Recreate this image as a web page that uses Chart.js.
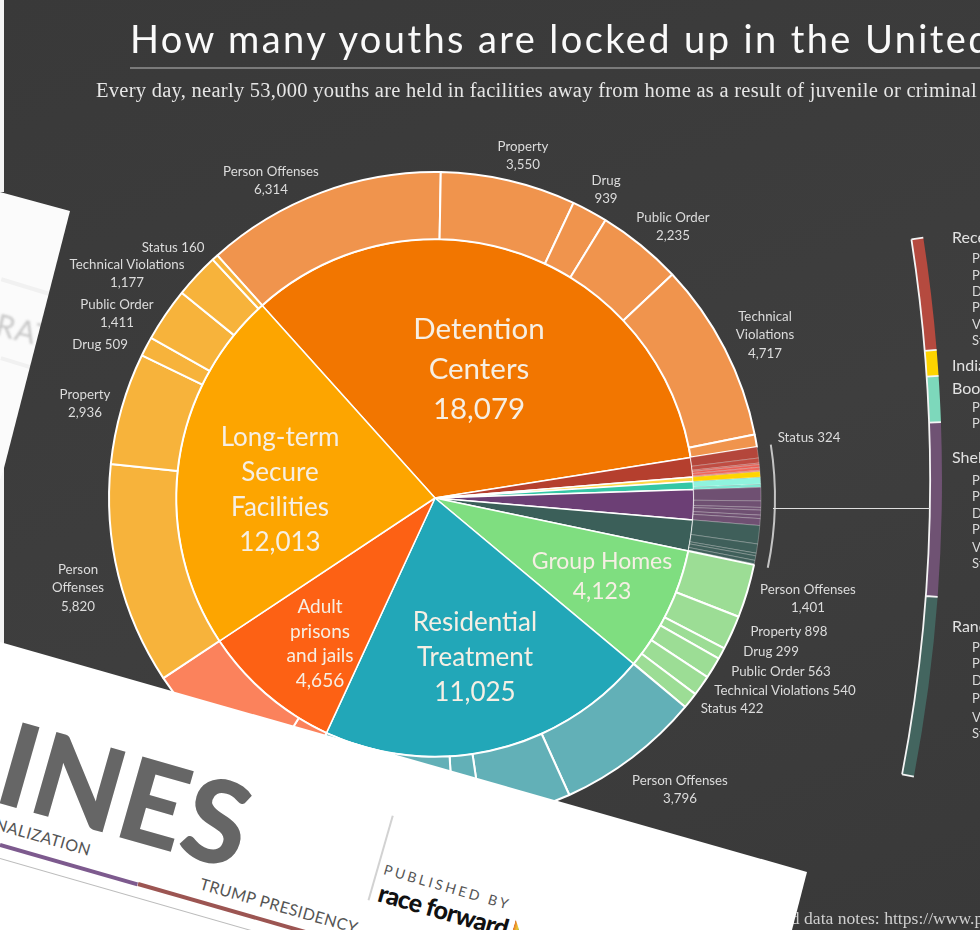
<!DOCTYPE html>
<html lang="en">
<head>
<meta charset="utf-8">
<title>How many youths are locked up in the United States?</title>
<script src="https://cdn.jsdelivr.net/npm/chart.js@4"></script>
<style>
  html, body { margin: 0; padding: 0; background: #3c3c3c; }
  #stage { position: relative; width: 980px; height: 930px; overflow: hidden;
           background: linear-gradient(160deg, #393939 0%, #3e3e3e 55%, #393939 100%);
           font-family: Lato, "Open Sans", sans-serif; }
  #stage canvas { position: absolute; }
  .txt { position: absolute; white-space: nowrap; }
  .lab { color: #dcdcdc; font-size: 13.3px; line-height: 18.4px; text-align: center; transform: translate(-50%, -9px); }
  .big { color: #f6efe4; text-align: center; transform: translate(-50%, -50%); }
  .key { color: #e2e2e2; font-size: 16px; transform: translateY(-50%); }
  .sub { color: #dadada; font-size: 13px; transform: translateY(-50%); }
  .paper { position: absolute; left: 0; top: 0; width: 980px; height: 930px; overflow: hidden; }
  .rot { position: absolute; white-space: nowrap; line-height: 1; }
  .bar { position: absolute; transform-origin: 0 50%; }
</style>
</head>
<body>
<div id="stage">
  <canvas id="rangeArc"></canvas>
  <canvas id="pie" width="980" height="930"></canvas>
  <div class="txt" id="title" style="left:130px;top:14px;font-size:38px;font-weight:400;letter-spacing:2.4px;color:#fafafa;line-height:48px">How many youths are locked up in the United States?</div>
  <div style="position:absolute;left:130px;top:67px;width:850px;height:1.5px;background:#7a7a7a"></div>
  <div class="txt" id="subtitle" style="left:96px;top:78px;font-family:'Liberation Serif',serif;font-size:20.5px;line-height:24px;letter-spacing:.27px;color:#e6e6e6">Every day, nearly 53,000 youths are held in facilities away from home as a result of juvenile or criminal justice involvement.</div>
  <div class="txt" style="left:720px;top:908px;font-family:'Liberation Serif',serif;font-size:17.6px;line-height:20px;color:#cfcfcf">Details and data notes: https://www.prisonpolicy.org/reports/youth2018.html</div>
  <div style="position:absolute;left:773px;top:507.5px;width:157px;height:1.5px;background:#dedede"></div>
  <div id="labels"></div>

  <!-- printed page lying over the upper-left corner -->
  <div style="position:absolute;left:0;top:0;width:4px;height:192px;background:#f4f4f4"></div>
  <div style="position:absolute;left:0;top:460px;width:4px;height:190px;background:#f4f4f4"></div>
  <div class="paper" style="background:#fbfbfb;clip-path:polygon(0 192px,70px 211px,4px 468px,0 480px)">
    <div class="rot" style="left:0;top:286px;width:60px;height:4px;background:#f1f1f1;transform:rotate(17deg)"></div>
    <div class="rot" style="left:0;top:362px;width:40px;height:4px;background:#f1f1f1;transform:rotate(17deg)"></div>
    <div class="rot" style="left:-4px;top:315px;font-size:30px;color:#c8c8c8;filter:blur(.8px);transform:rotate(14deg);letter-spacing:1px">RAT</div>
  </div>

  <!-- printed page lying over the bottom of the chart -->
  <div class="paper" style="background:#ffffff;clip-path:polygon(0 642px,807px 872px,792px 930px,0 930px)">
    <div class="rot" id="ines" style="left:-6px;top:699px;font-size:115.5px;font-weight:900;color:#666;letter-spacing:0;transform-origin:0 .8em;transform:rotate(15.9deg)">INES</div>
    <div class="rot" style="left:-6px;top:815px;font-size:16px;color:#555;letter-spacing:.5px;transform-origin:0 .8em;transform:rotate(15.9deg)">NALIZATION</div>
    <div class="bar" style="left:0;top:843px;width:143px;height:4px;background:#7d5a8e;transform:rotate(16deg)"></div>
    <div class="bar" style="left:138px;top:882px;width:200px;height:4px;background:#9c5552;transform:rotate(16deg)"></div>
    <div class="bar" style="left:0;top:858px;width:270px;height:1px;background:#bcbcbc;transform:rotate(16deg)"></div>
    <div class="rot" style="left:199px;top:875px;font-size:16px;color:#555;letter-spacing:.5px;transform-origin:0 .8em;transform:rotate(15.9deg)">TRUMP PRESIDENCY</div>
    <div class="bar" style="left:393px;top:815px;width:88px;height:1.5px;background:#d2d2d2;transform:rotate(106deg)"></div>
    <div class="rot" style="left:383px;top:862px;font-size:14px;color:#555;letter-spacing:2.9px;transform-origin:0 .8em;transform:rotate(15.9deg)">PUBLISHED BY</div>
    <div class="rot" style="left:377px;top:879px;font-size:25px;font-weight:900;color:#111;letter-spacing:-.7px;transform-origin:0 .8em;transform:rotate(15.9deg)">race forward</div>
    <div class="bar" style="left:514px;top:919px;width:8px;height:12px;background:linear-gradient(90deg,#e2742c,#f2c62e,#58a94a);clip-path:polygon(0 0,100% 100%,0 100%);transform:rotate(16deg)"></div>
  </div>
</div>

<script>
// Youth held by facility type, inner ring, in clockwise drawing order
const facilityNames = ['Detention Centers', 'Reception', 'Indian Country', 'Boot Camps', 'Shelters', 'Ranches',
                       'Group Homes', 'Residential Treatment', 'Adult prisons and jails', 'Long-term Secure Facilities'];
const detention   = [6314, 3550, 939, 2235, 4717, 324];
const reception   = [290, 130, 40, 70, 80, 30];
const indian      = [148];
const bootCamps   = [180, 83];
const shelters    = [350, 170, 70, 130, 90, 180];
const ranches     = [480, 240, 70, 120, 90, 28];
const groupHomes  = [1401, 898, 299, 563, 540, 422];
const residential = [3796, 2354, 750, 1812, 1865, 448];
const adult       = [1026, 3630];
const longTerm    = [5820, 2936, 509, 1411, 1177, 160];

const groups = [detention, reception, indian, bootCamps, shelters, ranches, groupHomes, residential, adult, longTerm];
const sum = a => a.reduce((s, v) => s + v, 0);
const fmt = v => v.toLocaleString('en-US');
const facilityTotals = groups.map(sum);
const grandTotal = sum(facilityTotals);
const smallFacilities = sum(facilityTotals.slice(1, 6));

const innerColors = ['#f27600', '#b53f2e', '#ffd84a', '#35c7a6', '#6c3f75', '#3b5f59', '#7fde80', '#22a7b8', '#fd6114', '#fda500'];
const outerColors = [
  ['#f0944d'],
  ['#b4463b', '#bf4c42', '#d85449', '#e95f55', '#ee675c', '#ef7066'],
  ['#ffd400'],
  ['#8ff3de', '#7fe7d2'],
  ['#6f5072'],
  ['#3f5f5a'],
  ['#9cdd95'],
  ['#62b0b7'],
  ['#fb825c'],
  ['#f7b33b']
];

const outerValues = groups.flat();
const outerFill = groups.flatMap((g, i) => g.map((_, j) => outerColors[i][j] || outerColors[i][0]));
const thinGroup = i => i >= 1 && i <= 5;
const outerLine = groups.flatMap((g, i) => g.map(() => thinGroup(i) ? 0.6 : 2));
const outerStroke = groups.flatMap((g, i) => g.map(() => thinGroup(i) ? 'rgba(255,255,255,.45)' : '#ffffff'));

// The whole pie starts where detention meets long-term secure facilities
const startAngle = -41.9;

new Chart(document.getElementById('pie'), {
  type: 'doughnut',
  data: {
    labels: outerValues.map((_, i) => String(i)),
    datasets: [
      { // bracket gathering the five smallest facility types
        data: [facilityTotals[0], smallFacilities, grandTotal - facilityTotals[0] - smallFacilities],
        backgroundColor: ['rgba(0,0,0,0)', '#c4c4c4', 'rgba(0,0,0,0)'],
        borderWidth: 0, weight: 2
      },
      { // gap between bracket and pie
        data: [grandTotal], backgroundColor: 'rgba(0,0,0,0)', borderWidth: 0, weight: 13
      },
      { data: outerValues, backgroundColor: outerFill, borderColor: outerStroke, borderWidth: outerLine, weight: 67 },
      { data: facilityTotals, backgroundColor: innerColors, borderColor: '#ffffff', borderWidth: 1.5, weight: 258 }
    ]
  },
  options: {
    responsive: false, animation: false, cutout: 0, rotation: startAngle,
    layout: { padding: { left: 94, right: 204, top: 157, bottom: 91 } },
    events: [],
    plugins: { legend: { display: false }, tooltip: { enabled: false } }
  }
});

// Enlarged slice of the ring for the five smallest facility types.
// A clear remainder keeps the ring a full circle, so its radius stays put.
const arcValues = facilityTotals.slice(1, 6);
const arcFill = ['#b54a3f', '#fdd400', '#7dd8bb', '#6f5273', '#43655f', 'rgba(0,0,0,0)'];
const arcSize = 3158;
const arcSweep = 19.66;
const arcRest = sum(arcValues) * (360 / arcSweep - 1);
const arcCanvas = document.getElementById('rangeArc');
arcCanvas.width = arcSize; arcCanvas.height = arcSize;
arcCanvas.style.left = (-637 - arcSize / 2) + 'px';
arcCanvas.style.top = (480 - arcSize / 2) + 'px';

const arcEdges = {
  id: 'arcEdges',
  afterDatasetsDraw(chart) {
    const arcs = chart.getDatasetMeta(0).data.slice(0, arcValues.length), ctx = chart.ctx;
    ctx.save();
    ctx.strokeStyle = '#f4f4f4';
    ctx.lineWidth = 1.8;
    const cx = arcs[0].x, cy = arcs[0].y, r0 = arcs[0].innerRadius, r1 = arcs[0].outerRadius;
    ctx.beginPath();
    ctx.arc(cx, cy, r0, arcs[0].startAngle, arcs[arcs.length - 1].endAngle);
    arcs.forEach((a, i) => {
      ctx.moveTo(cx + r0 * Math.cos(a.startAngle), cy + r0 * Math.sin(a.startAngle));
      ctx.lineTo(cx + r1 * Math.cos(a.startAngle), cy + r1 * Math.sin(a.startAngle));
      if (i === arcs.length - 1) {
        ctx.moveTo(cx + r0 * Math.cos(a.endAngle), cy + r0 * Math.sin(a.endAngle));
        ctx.lineTo(cx + r1 * Math.cos(a.endAngle), cy + r1 * Math.sin(a.endAngle));
      }
    });
    ctx.stroke();
    ctx.restore();
  }
};

new Chart(arcCanvas, {
  type: 'doughnut',
  data: {
    labels: facilityNames.slice(1, 6).concat(''),
    datasets: [{ data: arcValues.concat(arcRest), backgroundColor: arcFill, borderWidth: 0 }]
  },
  options: {
    responsive: false, animation: false, cutout: 1567,
    rotation: 91 - arcSweep / 2,
    events: [],
    plugins: { legend: { display: false }, tooltip: { enabled: false } }
  },
  plugins: [arcEdges]
});

// Text around and on the pie
const wrap = document.getElementById('labels');
function put(cls, x, y, html, extra) {
  const d = document.createElement('div');
  d.className = 'txt ' + cls;
  d.style.left = x + 'px';
  d.style.top = y + 'px';
  if (extra) d.style.cssText += extra;
  d.innerHTML = html;
  wrap.appendChild(d);
}

const ringLabels = [
  [271, 171, 'Person Offenses<br>' + fmt(detention[0])],
  [523, 146, 'Property<br>' + fmt(detention[1])],
  [606, 180, 'Drug<br>' + fmt(detention[2])],
  [673, 217, 'Public Order<br>' + fmt(detention[3])],
  [765, 316, 'Technical<br>Violations<br>' + fmt(detention[4])],
  [809, 437, 'Status ' + fmt(detention[5])],
  [173, 247, 'Status ' + fmt(longTerm[5])],
  [127, 264, 'Technical Violations<br>' + fmt(longTerm[4])],
  [117, 304, 'Public Order<br>' + fmt(longTerm[3])],
  [100, 344, 'Drug ' + fmt(longTerm[2])],
  [85, 394, 'Property<br>' + fmt(longTerm[1])],
  [78, 569, 'Person<br>Offenses<br>' + fmt(longTerm[0])],
  [808, 589, 'Person Offenses<br>' + fmt(groupHomes[0])],
  [789, 631, 'Property ' + fmt(groupHomes[1])],
  [771, 651, 'Drug ' + fmt(groupHomes[2])],
  [781, 671, 'Public Order ' + fmt(groupHomes[3])],
  [785, 690, 'Technical Violations ' + fmt(groupHomes[4])],
  [732, 708, 'Status ' + fmt(groupHomes[5])],
  [680, 780, 'Person Offenses<br>' + fmt(residential[0])]
];
ringLabels.forEach(([x, y, t]) => put('lab', x, y, t));

const sliceLabels = [
  [479, 368, 'Detention<br>Centers<br>' + fmt(facilityTotals[0]), 'font-size:29.5px;line-height:40px'],
  [280, 489, 'Long-term<br>Secure<br>Facilities<br>' + fmt(facilityTotals[9]), 'font-size:26px;line-height:35px'],
  [320, 643, 'Adult<br>prisons<br>and jails<br>' + fmt(facilityTotals[8]), 'font-size:19px;line-height:24.7px'],
  [475, 656, 'Residential<br>Treatment<br>' + fmt(facilityTotals[7]), 'font-size:26px;line-height:35px'],
  [602, 575, 'Group Homes<br>' + fmt(facilityTotals[6]), 'font-size:23px;line-height:30px']
];
sliceLabels.forEach(([x, y, t, s]) => put('big', x, y, t, s));

// Key beside the enlarged slice
const keyHeads = [
  [952, 236, 'Reception/Diagnostic Centers'],
  [952, 364, 'Indian Country'],
  [952, 387, 'Boot Camps'],
  [952, 456, 'Shelters'],
  [952, 625, 'Ranches/Wilderness Camps']
];
keyHeads.forEach(([x, y, t]) => put('key', x, y, t));

const keyRows = [
  [972, 258, 'Person'], [972, 275, 'Property'], [972, 291, 'Drug'], [972, 307, 'Public Order'], [972, 324, 'Violations'], [972, 340, 'Status'],
  [972, 407, 'Person'], [972, 423, 'Property'],
  [972, 480, 'Person'], [972, 496, 'Property'], [972, 513, 'Drug'], [972, 529, 'Public Order'], [972, 547, 'Violations'], [972, 563, 'Status'],
  [972, 647, 'Person'], [972, 663, 'Property'], [972, 680, 'Drug'], [972, 698, 'Public Order'], [972, 717, 'Violations'], [972, 733, 'Status']
];
keyRows.forEach(([x, y, t]) => put('sub', x, y, t));
</script>
</body>
</html>
